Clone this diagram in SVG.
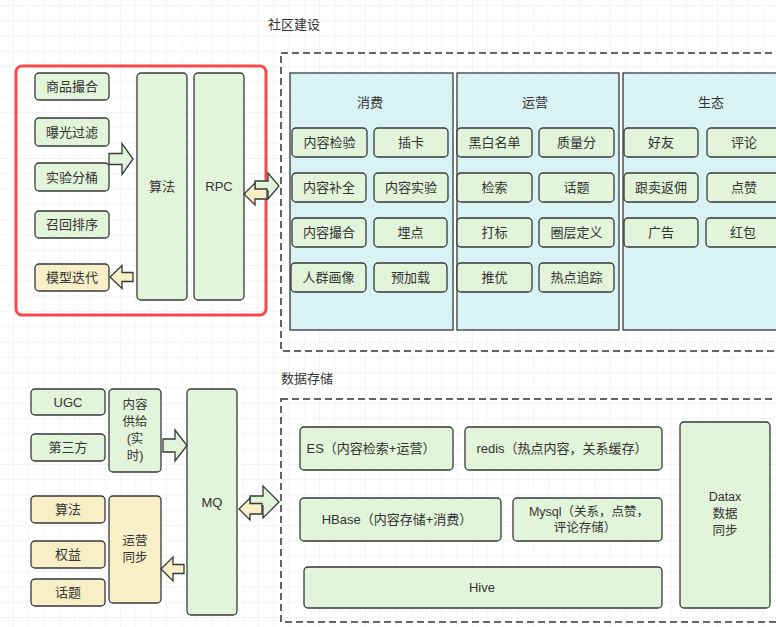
<svg xmlns="http://www.w3.org/2000/svg" width="776" height="627" viewBox="0 0 776 627">
<defs>
<pattern id="grid" x="13" y="5" width="15.3" height="15.3" patternUnits="userSpaceOnUse">
<path d="M0 0 V15.3 M0 0 H15.3" stroke="#efefef" stroke-width="1.2" fill="none"/>
</pattern>
<style>
text{font-family:"Liberation Sans","Noto Sans CJK SC",sans-serif;font-size:13px;fill:#333;text-anchor:middle;dominant-baseline:central}
.g{fill:#e2f4d9;stroke:#36393d;stroke-width:1.3}
.y{fill:#f8efc6;stroke:#36393d;stroke-width:1.3}
.c{fill:#d9f2f3;stroke:#36393d;stroke-width:1.3}
.dash{fill:none;stroke:#333;stroke-width:1.5;stroke-dasharray:7 4}
.lt{text-anchor:start}
.sm{font-size:12.5px}
</style>
</defs>
<rect width="776" height="627" fill="#fff"/>
<rect width="776" height="627" fill="url(#grid)"/>

<!-- algorithm area -->
<g id="algo-frame"><rect x="16" y="66" width="250" height="249" rx="6" fill="none" stroke="#f84a4a" stroke-width="3"/></g>
<g id="n-shangpin"><rect class="g" x="35" y="73" width="74" height="27" rx="4"/><text x="72" y="86.5">商品撮合</text></g>
<g id="n-baoguang"><rect class="g" x="35" y="118" width="74" height="28" rx="4"/><text x="72" y="132">曝光过滤</text></g>
<g id="n-shiyan"><rect class="g" x="35" y="163" width="74" height="28" rx="4"/><text x="72" y="177">实验分桶</text></g>
<g id="n-zhaohui"><rect class="g" x="35" y="211" width="74" height="27" rx="4"/><text x="72" y="224.5">召回排序</text></g>
<g id="n-moxing"><rect class="y" x="35" y="264" width="74" height="27" rx="4"/><text x="72" y="277.5">模型迭代</text></g>
<g id="n-suanfa"><rect class="g" x="137" y="73" width="50" height="227" rx="4"/><text x="162" y="186">算法</text></g>
<g id="n-rpc"><rect class="g" x="194" y="73" width="50" height="227" rx="4"/><text x="219" y="186">RPC</text></g>

<!-- community -->
<text class="lt" x="268" y="24">社区建设</text>
<g id="community-frame"><rect class="dash" x="281" y="53" width="510" height="298"/></g>
<g id="col-xiaofei"><rect class="c" x="290" y="73" width="163" height="257"/><text x="370" y="102">消费</text></g>
<g id="col-yunying"><rect class="c" x="457" y="73" width="162" height="257"/><text x="535" y="102">运营</text></g>
<g id="col-shengtai"><rect class="c" x="623" y="73" width="176" height="257"/><text x="711" y="102">生态</text></g>

<g id="n-jianyan"><rect class="g" x="292" y="128" width="75" height="29" rx="4"/><text x="329.5" y="142.5">内容检验</text></g>
<g id="n-chaka"><rect class="g" x="374" y="128" width="74" height="29" rx="4"/><text x="411" y="142.5">插卡</text></g>
<g id="n-buquan"><rect class="g" x="292" y="173" width="74" height="29" rx="4"/><text x="329" y="187.5">内容补全</text></g>
<g id="n-neirongshiyan"><rect class="g" x="374" y="173" width="74" height="29" rx="4"/><text x="411" y="187.5">内容实验</text></g>
<g id="n-cuohe"><rect class="g" x="292" y="218" width="74" height="29" rx="4"/><text x="329" y="232.5">内容撮合</text></g>
<g id="n-maidian"><rect class="g" x="374" y="218" width="73" height="29" rx="4"/><text x="410.5" y="232.5">埋点</text></g>
<g id="n-renqun"><rect class="g" x="291" y="263" width="75" height="29" rx="4"/><text x="328.5" y="277.5">人群画像</text></g>
<g id="n-yujiazai"><rect class="g" x="374" y="263" width="73" height="29" rx="4"/><text x="410.5" y="277.5">预加载</text></g>

<g id="n-heibai"><rect class="g" x="457" y="128" width="75" height="29" rx="4"/><text x="494.5" y="142.5">黑白名单</text></g>
<g id="n-zhiliang"><rect class="g" x="539" y="128" width="75" height="29" rx="4"/><text x="576.5" y="142.5">质量分</text></g>
<g id="n-jiansuo"><rect class="g" x="457" y="173" width="75" height="29" rx="4"/><text x="494.5" y="187.5">检索</text></g>
<g id="n-huati1"><rect class="g" x="539" y="173" width="75" height="29" rx="4"/><text x="576.5" y="187.5">话题</text></g>
<g id="n-dabiao"><rect class="g" x="457" y="218" width="75" height="29" rx="4"/><text x="494.5" y="232.5">打标</text></g>
<g id="n-quanceng"><rect class="g" x="539" y="218" width="75" height="29" rx="4"/><text x="576.5" y="232.5">圈层定义</text></g>
<g id="n-tuiyou"><rect class="g" x="457" y="263" width="75" height="29" rx="4"/><text x="494.5" y="277.5">推优</text></g>
<g id="n-redian"><rect class="g" x="539" y="263" width="75" height="29" rx="4"/><text x="576.5" y="277.5">热点追踪</text></g>

<g id="n-haoyou"><rect class="g" x="624" y="128" width="74" height="29" rx="4"/><text x="661" y="142.5">好友</text></g>
<g id="n-pinglun"><rect class="g" x="707" y="128" width="74" height="29" rx="4"/><text x="744" y="142.5">评论</text></g>
<g id="n-genmai"><rect class="g" x="624" y="173" width="74" height="29" rx="4"/><text x="661" y="187.5">跟卖返佣</text></g>
<g id="n-dianzan"><rect class="g" x="707" y="173" width="74" height="29" rx="4"/><text x="744" y="187.5">点赞</text></g>
<g id="n-guanggao"><rect class="g" x="624" y="218" width="74" height="29" rx="4"/><text x="661" y="232.5">广告</text></g>
<g id="n-hongbao"><rect class="g" x="706" y="218" width="74" height="29" rx="4"/><text x="743" y="232.5">红包</text></g>

<!-- bottom left -->
<g id="n-ugc"><rect class="g" x="31" y="389" width="74" height="26" rx="4"/><text x="68" y="402">UGC</text></g>
<g id="n-disanfang"><rect class="g" x="31" y="434" width="74" height="27" rx="4"/><text x="68" y="447.5">第三方</text></g>
<g id="n-gongji"><rect class="g" x="109" y="389" width="52" height="83" rx="4"/><text class="sm" x="135" y="405">内容</text><text class="sm" x="135" y="422">供给</text><text class="sm" x="135" y="439">(实</text><text class="sm" x="135" y="456">时)</text></g>
<g id="n-suanfa2"><rect class="y" x="31" y="496" width="74" height="27" rx="4"/><text x="68" y="509.5">算法</text></g>
<g id="n-quanyi"><rect class="y" x="31" y="541" width="74" height="27" rx="4"/><text x="68" y="554.5">权益</text></g>
<g id="n-huati2"><rect class="y" x="31" y="579" width="74" height="27" rx="4"/><text x="68" y="592.5">话题</text></g>
<g id="n-tongbu"><rect class="y" x="109" y="496" width="52" height="107" rx="4"/><text class="sm" x="135" y="541">运营</text><text class="sm" x="135" y="558">同步</text></g>
<g id="n-mq"><rect class="g" x="187" y="389" width="50" height="226" rx="4"/><text x="212" y="502">MQ</text></g>

<!-- storage -->
<text class="lt" x="281" y="378">数据存储</text>
<g id="storage-frame"><rect class="dash" x="281" y="399" width="510" height="223"/></g>
<g id="n-es"><rect class="g" x="300" y="427" width="153" height="43" rx="4"/><text x="371" y="448.5">ES（内容检索+运营）</text></g>
<g id="n-redis"><rect class="g" x="465" y="427" width="197" height="43" rx="4"/><text x="562" y="448.5">redis（热点内容，关系缓存）</text></g>
<g id="n-hbase"><rect class="g" x="300" y="498" width="201" height="43" rx="4"/><text x="397" y="519.5">HBase（内容存储+消费）</text></g>
<g id="n-mysql"><rect class="g" x="513" y="498" width="149" height="43" rx="4"/><text class="sm" x="589" y="511.5">Mysql（关系，点赞，</text><text class="sm" x="585" y="527.5">评论存储）</text></g>
<g id="n-hive"><rect class="g" x="304" y="567" width="358" height="41" rx="4"/><text x="482" y="587">Hive</text></g>
<g id="n-datax"><rect class="g" x="680" y="422" width="90" height="186" rx="4"/><text class="sm" x="725" y="497">Datax</text><text class="sm" x="725" y="514">数据</text><text class="sm" x="725" y="531">同步</text></g>

<!-- connectors -->
<g id="connectors" stroke="#36393d" stroke-width="1.3" stroke-linejoin="miter">
<polygon fill="#e2f4d9" points="109,153.5 122,153.5 122,143.5 133,159 122,174.5 122,164.5 109,164.5"/>
<polygon fill="#f8efc6" points="133,272.5 122,272.5 122,265.5 110,277 122,288.5 122,281.5 133,281.5"/>
<polygon fill="#e2f4d9" points="255,181 268,181 268,173 279,186 268,199 268,191 255,191"/>
<polygon fill="#f8efc6" points="267,189 255,189 255,183 244,194 255,205 255,199 267,199"/>
<polygon fill="#e2f4d9" points="163,439 175,439 175,430 187,445.5 175,461 175,452 163,452"/>
<polygon fill="#f8efc6" points="184,564.5 173,564.5 173,557 161,569 173,581 173,573.5 184,573.5"/>
<polygon fill="#e2f4d9" points="250,496 263,496 263,486 279,502 263,518 263,506 250,506"/>
<polygon fill="#f8efc6" points="262,503.5 250,503.5 250,498 239,509 250,520 250,514 262,514"/>
</g>
</svg>
